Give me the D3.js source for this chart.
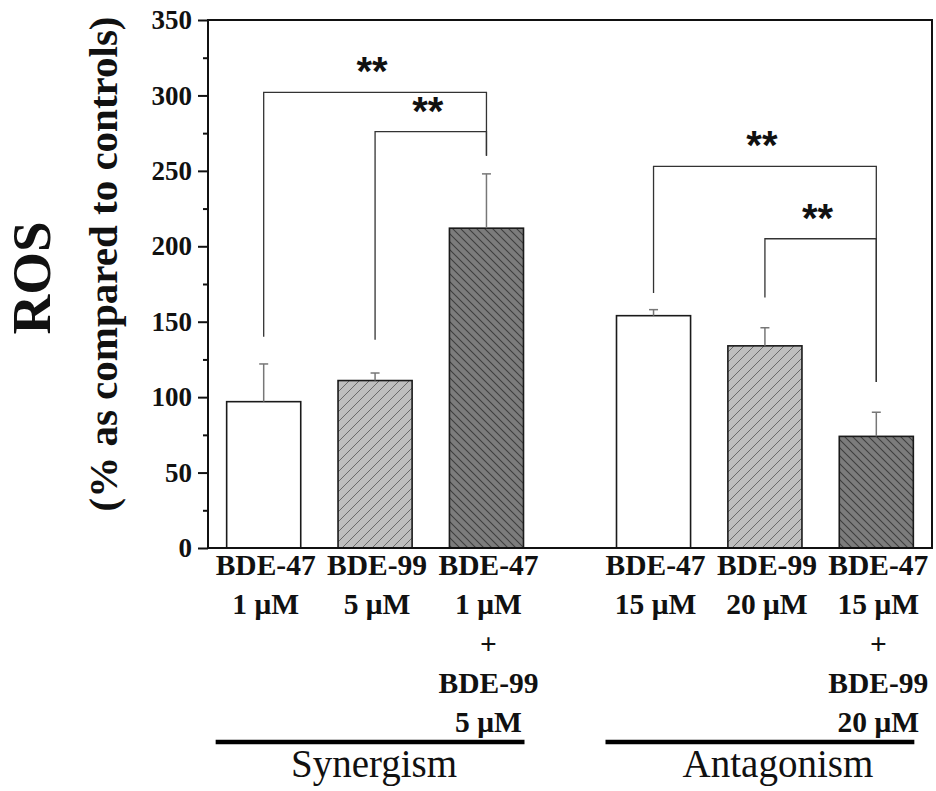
<!DOCTYPE html>
<html><head><meta charset="utf-8">
<script src="https://cdn.jsdelivr.net/npm/d3@7"></script>
<style>body{margin:0;background:#fff}svg{display:block}</style>
</head><body>
<svg id="c" width="936" height="791"></svg>
<script>
// ---- data ----
const categories = [
  ["BDE-47", "1 μM"],
  ["BDE-99", "5 μM"],
  ["BDE-47", "1 μM", "+", "BDE-99", "5 μM"],
  ["BDE-47", "15 μM"],
  ["BDE-99", "20 μM"],
  ["BDE-47", "15 μM", "+", "BDE-99", "20 μM"]
];
const groupNames = ["Synergism", "Antagonism"];
const values = [97, 111, 212, 154, 134, 74];
const errors = [25, 5, 36, 4, 12, 16];
const yTicks = [0, 50, 100, 150, 200, 250, 300, 350];
const yMinorTicks = [25, 75, 125, 175, 225, 275, 325];
// significance brackets: bar indices, bracket top value, lower ends of each leg (values)
const brackets = [
  { from: 0, to: 2, top: 302, leftEnd: 140, rightEnd: 260, label: "**" },
  { from: 1, to: 2, top: 276, leftEnd: 138, rightEnd: 260, label: "**" },
  { from: 3, to: 5, top: 253, leftEnd: 169, rightEnd: 110, label: "**" },
  { from: 4, to: 5, top: 205, leftEnd: 166, rightEnd: 110, label: "**" }
];

// ---- layout ----
const svg = d3.select("#c");
const L = 208, R = 932, T = 20, B = 548;
const serif = "'Liberation Serif','Times New Roman',serif";
const slot = i => (i < 3 ? i : i + 0.5);
const x = d3.scaleLinear().domain([-0.5, 6]).range([L, R]);
const y = d3.scaleLinear().domain([0, 350]).range([B, T]);
const bw = (x(1) - x(0)) * 0.665;

// patterns
const defs = svg.append("defs");
const p1 = defs.append("pattern").attr("id", "hLight").attr("patternUnits", "userSpaceOnUse")
  .attr("width", 10).attr("height", 10);
p1.append("rect").attr("width", 10).attr("height", 10).attr("fill", "#bebebe");
p1.append("path").attr("d", "M-2,2 L2,-2 M0,10 L10,0 M8,12 L12,8")
  .attr("stroke", "#6a6a6a").attr("stroke-width", 1);
const p2 = defs.append("pattern").attr("id", "hDark").attr("patternUnits", "userSpaceOnUse")
  .attr("width", 8).attr("height", 8);
p2.append("rect").attr("width", 8).attr("height", 8).attr("fill", "#7c7c7c");
p2.append("path").attr("d", "M-2,6 L2,10 M0,0 L8,8 M6,-2 L10,2")
  .attr("stroke", "#3e3e3e").attr("stroke-width", 1.1);
const fills = ["#ffffff", "url(#hLight)", "url(#hDark)"];

// bars
svg.append("g").selectAll("rect").data(values).join("rect")
  .attr("x", (d, i) => x(slot(i)) - bw / 2)
  .attr("y", d => y(d))
  .attr("width", bw)
  .attr("height", d => y(0) - y(d))
  .attr("fill", (d, i) => fills[i % 3])
  .attr("stroke", "#1a1a1a").attr("stroke-width", 1.6);

// error bars
const eg = svg.append("g").attr("stroke", "#777").attr("stroke-width", 1.5);
values.forEach((v, i) => {
  const cx = x(slot(i));
  eg.append("line").attr("x1", cx).attr("x2", cx).attr("y1", y(v)).attr("y2", y(v + errors[i]));
  eg.append("line").attr("x1", cx - 4.5).attr("x2", cx + 4.5).attr("y1", y(v + errors[i])).attr("y2", y(v + errors[i]));
});

// brackets
const bg = svg.append("g");
brackets.forEach(b => {
  const x1 = x(slot(b.from)), x2 = x(slot(b.to));
  bg.append("path")
    .attr("d", `M${x1},${y(b.leftEnd)} V${y(b.top)} H${x2} V${y(b.rightEnd)}`)
    .attr("fill", "none").attr("stroke", "#333").attr("stroke-width", 1.3);
  bg.append("text").attr("x", (x1 + x2) / 2 - 3).attr("y", y(b.top) - 7)
    .attr("text-anchor", "middle")
    .attr("font-family", "'Liberation Sans',Arial,sans-serif").attr("font-weight", "bold")
    .attr("font-size", 40).attr("fill", "#111").text(b.label);
});

// frame
svg.append("rect").attr("x", L).attr("y", T).attr("width", R - L).attr("height", B - T)
  .attr("fill", "none").attr("stroke", "#111").attr("stroke-width", 2);

// y axis
const yAxis = svg.append("g").attr("transform", `translate(${L},0)`)
  .call(d3.axisLeft(y).tickValues(yTicks).tickSize(10).tickPadding(6).tickFormat(d3.format("d")));
yAxis.select(".domain").remove();
yAxis.selectAll(".tick line").attr("stroke", "#111").attr("stroke-width", 2);
yAxis.selectAll(".tick text").attr("font-family", serif).attr("font-weight", "bold")
  .attr("font-size", 27).attr("fill", "#111");
svg.append("g").attr("transform", `translate(${L},0)`)
  .call(d3.axisLeft(y).tickValues(yMinorTicks).tickSize(5).tickFormat(""))
  .call(g => g.select(".domain").remove())
  .selectAll(".tick line").attr("stroke", "#111").attr("stroke-width", 2);

// category labels
const lg = svg.append("g").attr("font-family", serif).attr("font-weight", "bold")
  .attr("font-size", 29.5).attr("fill", "#111").attr("text-anchor", "middle");
categories.forEach((lines, i) => {
  lines.forEach((t, j) => {
    lg.append("text").attr("x", x(slot(i)) + 2).attr("y", B + 27 + j * 39.3).text(t);
  });
});

// group lines and names
groupNames.forEach((g, k) => {
  const a = k * 3, b = k * 3 + 2;
  const xa = x(slot(a)) - bw / 2 - 11, xb = x(slot(b)) + bw / 2 + 1;
  svg.append("line").attr("x1", xa).attr("x2", xb).attr("y1", 742).attr("y2", 742)
    .attr("stroke", "#000").attr("stroke-width", 4.5);
  svg.append("text").attr("x", (xa + xb) / 2 + (k ? 18 : 4)).attr("y", 777)
    .attr("text-anchor", "middle").attr("font-family", serif)
    .attr("font-size", 39).attr("fill", "#111").text(g);
});

// y axis titles
svg.append("text").attr("transform", "translate(50,278) rotate(-90)")
  .attr("text-anchor", "middle").attr("font-family", serif).attr("font-weight", "bold")
  .attr("font-size", 55).attr("fill", "#111").text("ROS");
svg.append("text").attr("transform", "translate(117,264) rotate(-90)")
  .attr("text-anchor", "middle").attr("font-family", serif).attr("font-weight", "bold")
  .attr("font-size", 41).attr("fill", "#111").text("(% as compared to controls)");
</script>
</body></html>
